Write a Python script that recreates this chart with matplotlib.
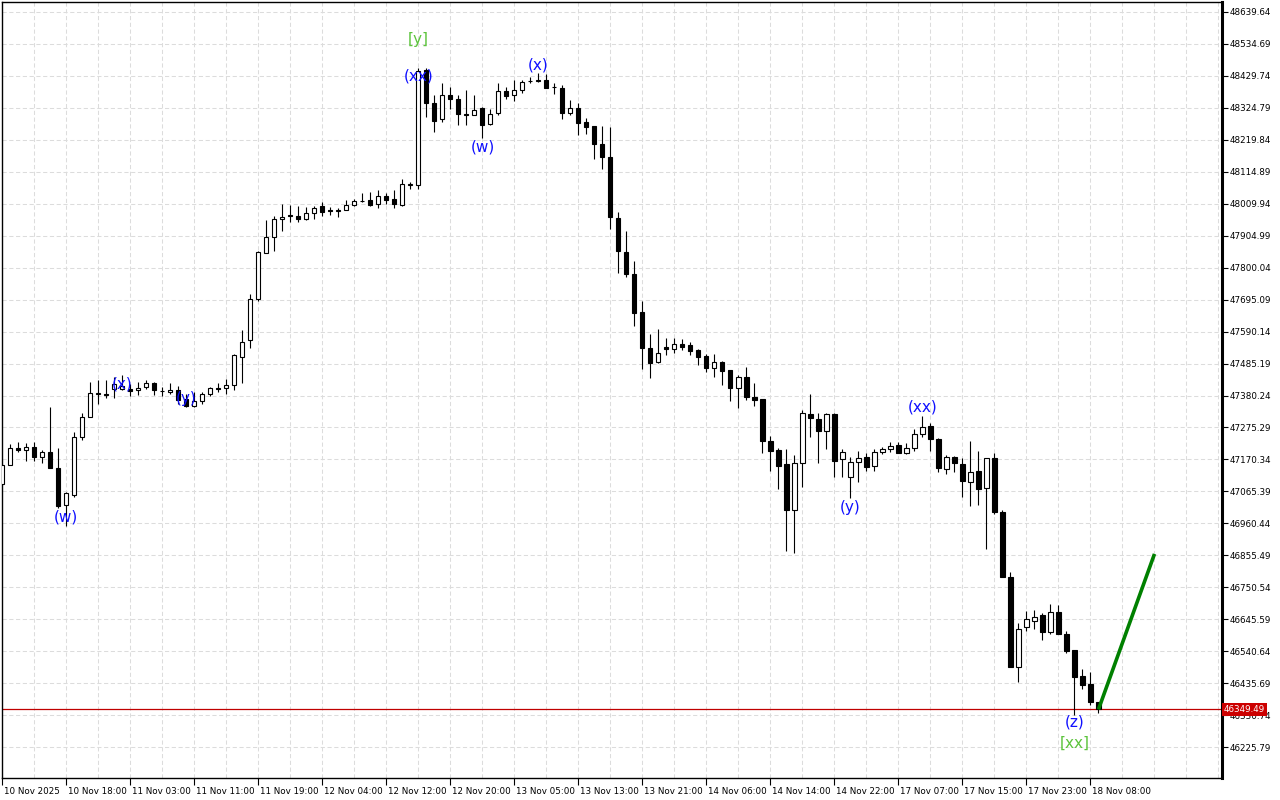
import matplotlib
matplotlib.use("Agg")
import matplotlib.pyplot as plt
import matplotlib.transforms as mtransforms
import numpy as np

# ---- data (H1 candles) ----
opens = [47090, 47152, 47208, 47202, 47212, 47178, 47196, 47143, 47021, 47055,
         47243, 47309, 47386, 47386, 47400, 47402, 47402, 47397, 47408, 47422,
         47396, 47391, 47399, 47369, 47347, 47361, 47386, 47404, 47405, 47415,
         47508, 47561, 47698, 47849, 47902, 47960, 47972, 47971, 47960, 47980,
         48001, 47988, 47986, 47990, 48007, 48019, 48021, 48010, 48035, 48024,
         48007, 48073, 48072, 48450, 48342, 48289, 48368, 48355, 48304, 48300,
         48326, 48271, 48308, 48379, 48368, 48384, 48412, 48414, 48417, 48393,
         48391, 48309, 48325, 48277, 48264, 48207, 48165, 47964, 47851, 47780,
         47656, 47535, 47491, 47538, 47532, 47548, 47546, 47530, 47510, 47472,
         47489, 47464, 47406, 47440, 47374, 47369, 47231, 47201, 47155, 47004,
         47160, 47318, 47303, 47265, 47318, 47171, 47112, 47161, 47179, 47149,
         47194, 47204, 47218, 47193, 47207, 47253, 47280, 47236, 47138, 47177,
         47154, 47095, 47132, 47076, 47174, 46997, 46783, 46488, 46619, 46641,
         46660, 46605, 46668, 46596, 46545, 46459, 46432, 46373]
highs = [47156, 47221, 47227, 47224, 47229, 47202, 47342, 47208, 47063, 47259,
         47322, 47426, 47432, 47432, 47440, 47446, 47419, 47426, 47430, 47424,
         47408, 47421, 47410, 47384, 47391, 47391, 47408, 47421, 47433, 47517,
         47594, 47712, 47856, 47955, 47971, 48010, 48006, 48004, 47999, 48004,
         48015, 47999, 47996, 48021, 48024, 48045, 48050, 48054, 48046, 48054,
         48090, 48083, 48455, 48455, 48366, 48407, 48393, 48366, 48382, 48368,
         48327, 48322, 48407, 48393, 48417, 48417, 48426, 48439, 48435, 48407,
         48399, 48352, 48341, 48292, 48265, 48264, 48262, 47982, 47919, 47822,
         47690, 47582, 47598, 47568, 47568, 47565, 47555, 47533, 47517, 47517,
         47495, 47464, 47448, 47475, 47422, 47369, 47247, 47207, 47205, 47185,
         47333, 47385, 47322, 47324, 47324, 47205, 47177, 47198, 47190, 47204,
         47212, 47226, 47229, 47225, 47270, 47313, 47289, 47240, 47185, 47182,
         47174, 47231, 47198, 47176, 47190, 47004, 46800, 46632, 46673, 46676,
         46667, 46696, 46692, 46607, 46545, 46481, 46471, 46375]
lows = [47085, 47152, 47194, 47165, 47165, 47158, 47142, 47011, 46951, 47046,
        47235, 47309, 47353, 47373, 47373, 47397, 47380, 47382, 47402, 47382,
        47380, 47386, 47353, 47342, 47342, 47353, 47378, 47391, 47386, 47399,
        47421, 47537, 47692, 47849, 47856, 47920, 47949, 47949, 47955, 47960,
        47971, 47972, 47966, 47990, 48004, 48015, 48004, 47996, 48010, 47996,
        48004, 48059, 48059, 48295, 48245, 48278, 48322, 48267, 48269, 48300,
        48226, 48267, 48300, 48355, 48347, 48373, 48407, 48410, 48391, 48371,
        48289, 48302, 48237, 48240, 48158, 48125, 47928, 47782, 47769, 47607,
        47468, 47437, 47488, 47513, 47521, 47530, 47513, 47480, 47459, 47442,
        47415, 47362, 47340, 47365, 47346, 47193, 47132, 47073, 46870, 46864,
        47081, 47245, 47160, 47205, 47114, 47114, 47043, 47097, 47133, 47133,
        47188, 47196, 47190, 47188, 47199, 47245, 47198, 47130, 47123, 47130,
        47048, 47019, 47021, 46876, 46991, 46783, 46488, 46441, 46608, 46613,
        46578, 46596, 46596, 46534, 46331, 46416, 46364, 46339]
closes = [47152, 47208, 47202, 47212, 47178, 47196, 47142, 47019, 47061, 47243,
          47309, 47389, 47387, 47381, 47419, 47413, 47394, 47405, 47422, 47397,
          47394, 47399, 47366, 47347, 47361, 47386, 47405, 47403, 47415, 47512,
          47555, 47698, 47853, 47902, 47960, 47968, 47971, 47960, 47980, 47997,
          47982, 47987, 47991, 48007, 48018, 48018, 48007, 48035, 48023, 48010,
          48076, 48075, 48446, 48342, 48281, 48368, 48355, 48305, 48303, 48319,
          48269, 48306, 48379, 48364, 48384, 48410, 48413, 48415, 48391, 48392,
          48309, 48325, 48276, 48262, 48207, 48163, 47968, 47855, 47780, 47651,
          47537, 47488, 47519, 47532, 47548, 47541, 47527, 47508, 47472, 47489,
          47462, 47406, 47440, 47376, 47365, 47231, 47199, 47149, 47004, 47158,
          47322, 47305, 47265, 47318, 47166, 47194, 47161, 47176, 47147, 47194,
          47204, 47216, 47193, 47207, 47253, 47278, 47236, 47141, 47177, 47158,
          47101, 47128, 47072, 47174, 46999, 46783, 46488, 46613, 46645, 46654,
          46603, 46668, 46596, 46542, 46457, 46430, 46375, 46349.49]

current_price = 46349.49

# projected move (green line): bar index, price
proj_bars = [137, 144]
proj_prices = [46349.49, 46860]

# wave labels: text, bar index, price, colour key
wave_texts = ["(w)", "(x)", "(y)", "(xx)", "[y]", "(w)", "(x)", "(y)", "(xx)", "(z)", "[xx]"]
wave_bars = [8, 15, 23, 52, 52, 60, 67, 106, 115, 134, 134]
wave_prices = [46981, 47418, 47369, 48430, 48548, 48196, 48466, 47014, 47343, 46308, 46239]
wave_kind = ["minor", "minor", "minor", "minor", "major", "minor", "minor", "minor", "minor", "minor", "major"]

x_labels = ["10 Nov 2025", "10 Nov 18:00", "11 Nov 03:00", "11 Nov 11:00", "11 Nov 19:00",
            "12 Nov 04:00", "12 Nov 12:00", "12 Nov 20:00", "13 Nov 05:00", "13 Nov 13:00",
            "13 Nov 21:00", "14 Nov 06:00", "14 Nov 14:00", "14 Nov 22:00", "17 Nov 07:00",
            "17 Nov 15:00", "17 Nov 23:00", "18 Nov 08:00"]
y_labels = ["48639.64", "48534.69", "48429.74", "48324.79", "48219.84", "48114.89",
            "48009.94", "47904.99", "47800.04", "47695.09", "47590.14", "47485.19",
            "47380.24", "47275.29", "47170.34", "47065.39", "46960.44", "46855.49",
            "46750.54", "46645.59", "46540.64", "46435.69", "46330.74", "46225.79"]

# ---- figure ----
W, H = 1280, 800
fig = plt.figure(figsize=(W / 100, H / 100), dpi=100)
ax_left, ax_right = 2.3 / W, 1221.7 / W
ax_top, ax_bottom = 1.5 / H, 778 / H
ax = fig.add_axes([ax_left, 1 - ax_bottom, ax_right - ax_left, ax_bottom - ax_top])

n = len(opens)
xs = np.arange(n)
o = np.array(opens, float); c = np.array(closes, float)
hi = np.array(highs, float); lo = np.array(lows, float)

ax.set_xlim(0, 152.4)
ax.set_ylim(46124.2, 48674.1)

# grid
y_ticks = [float(v) for v in y_labels]
for v in y_ticks:
    ax.axhline(v, color="#dcdcdc", lw=0.75, ls=(0, (4, 2.5)), zorder=0)
for b in range(4, 153, 4):
    ax.axvline(b, color="#dcdcdc", lw=0.75, ls=(0, (4, 2.5)), zorder=0)

# wicks
ax.vlines(xs, lo, hi, color="black", lw=0.8, zorder=2)
# bodies
up = c >= o
bottoms = np.minimum(o, c)
heights = np.maximum(np.abs(c - o), 0.8)
ax.bar(xs[up], heights[up], bottom=bottoms[up], width=0.52, facecolor="white",
       edgecolor="black", linewidth=0.8, zorder=3)
ax.bar(xs[~up], heights[~up], bottom=bottoms[~up], width=0.52, facecolor="black",
       edgecolor="black", linewidth=0.8, zorder=3)

# current price line
ax.axhline(current_price, color="#c00000", lw=0.9, zorder=1)

# projection
ax.plot(proj_bars, proj_prices, color="#008000", lw=2.6, zorder=5, solid_capstyle="butt")

# wave labels
for t, b, p, k in zip(wave_texts, wave_bars, wave_prices, wave_kind):
    col = "#1010ff" if k == "minor" else "#5cc43c"
    ax.text(b, p, t, color=col, fontsize=11, ha="center", va="center", zorder=6,
            family="DejaVu Sans")

# axes styling
for s in ax.spines.values():
    s.set_color("black"); s.set_linewidth(1.0)
ax.spines["right"].set_linewidth(2.2)

ax.yaxis.tick_right()
ax.set_yticks(y_ticks)
ax.set_yticklabels(y_labels)
ax.tick_params(axis="y", direction="out", length=4, width=0.8, pad=1.5,
               labelsize=6.3, colors="black")

ax.set_xticks(np.arange(0, 8 * len(x_labels), 8))
ax.set_xticklabels(x_labels)
ax.tick_params(axis="x", direction="out", length=5, width=0.8, pad=1.5,
               labelsize=6.3, colors="black")
offset = mtransforms.ScaledTranslation(1.5 / 100, 0, fig.dpi_scale_trans)
for lbl in ax.get_xticklabels():
    lbl.set_ha("left")
    lbl.set_transform(lbl.get_transform() + offset)

# current price tag
ax.text(1.0015, current_price, f"{current_price:.2f}", transform=ax.get_yaxis_transform(),
        color="white", fontsize=6.3, ha="left", va="center", zorder=10, clip_on=False,
        bbox=dict(boxstyle="square,pad=0.2", facecolor="#cc0000", edgecolor="none"))

fig.savefig("out.png", dpi=100, facecolor="white")
